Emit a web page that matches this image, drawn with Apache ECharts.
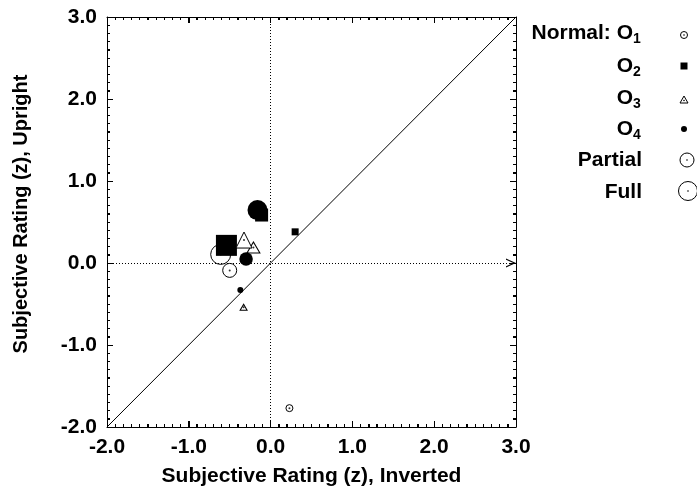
<!DOCTYPE html>
<html>
<head>
<meta charset="utf-8">
<script src="https://cdn.jsdelivr.net/npm/echarts@6/dist/echarts.min.js"></script>
<style>html,body{margin:0;padding:0;background:#fff}#c{width:697px;height:495px}</style>
</head>
<body>
<div id="c"></div>
<script>
// Orientation order: O1, O2, O3, O4
const orientations = ['O1', 'O2', 'O3', 'O4'];
const conditions = ['Normal', 'Partial', 'Full'];
const normalX = [0.23, 0.30, -0.33, -0.37];
const normalY = [-1.77, 0.38, -0.54, -0.33];
const partialX = [-0.50, -0.11, -0.21, -0.30];
const partialY = [-0.09, 0.585, 0.19, 0.05];
const fullX = [-0.61, -0.54, -0.325, -0.16];
const fullY = [0.105, 0.215, 0.28, 0.645];
const axisMin = -2, axisMax = 3, axisStep = 1, minorSteps = 10;
const xTitle = 'Subjective Rating (z), Inverted';
const yTitle = 'Subjective Rating (z), Upright';

const condX = [normalX, partialX, fullX];
const condY = [normalY, partialY, fullY];
function pts(o) { return condX.map((xs, c) => [xs[o], condY[c][o]]); }

const FONT = 'Liberation Sans';
const symbolSizes = {
  O1: [7, 14, 20],
  O2: [7, 13, 21],
  O3: [[7, 6], [13, 11], [16, 16]],
  O4: [6, 13.5, 20]
};
function sizeFn(key) { return (v, p) => symbolSizes[key][p.dataIndex]; }

const chart = echarts.init(document.getElementById('c'), null, { renderer: 'canvas' });

function labStyle(size) {
  return { fontFamily: FONT, fontWeight: 'bold', fontSize: size, color: '#000' };
}

function baseAxis(pos, showLab) {
  return {
    type: 'value', min: axisMin, max: axisMax, interval: axisStep, position: pos,
    axisLine: { show: true, onZero: false, lineStyle: { color: '#000', width: 1 } },
    axisTick: { show: true, inside: true, length: 6, lineStyle: { color: '#000', width: 1 } },
    minorTick: { show: true, splitNumber: minorSteps, length: 3, lineStyle: { color: '#000', width: 1 } },
    splitLine: { show: false },
    axisLabel: Object.assign({ show: showLab, formatter: v => v.toFixed(1), margin: 10 }, labStyle(21))
  };
}

const xa = baseAxis('bottom', true);
xa.name = xTitle; xa.nameLocation = 'middle'; xa.nameGap = 39; xa.nameTextStyle = labStyle(21);
const xTop = baseAxis('top', false);
const ya = baseAxis('left', true);
ya.name = yTitle; ya.nameLocation = 'middle'; ya.nameGap = 76;
ya.nameTextStyle = Object.assign(labStyle(20), { padding: [0, 0, 0, 16] });
const yRight = baseAxis('right', false);

// open chevron, tip at the symbol centre (degenerate point extends the bbox)
const chevron = 'path://M5,10 L10,20 L8.6,20 L5,12.8 L1.4,20 L0,20 Z M5,0 L5,0.01 L5.01,0 Z';
const dotted = { color: '#000', width: 1, type: [1, 2] };

const series = [
  {
    type: 'scatter', data: pts(0), symbol: 'none', symbolSize: 0, z: 1, silent: true,
    markLine: {
      silent: true, label: { show: false }, symbol: ['none', 'none'],
      data: [
        [{ coord: [axisMin, axisMin], lineStyle: { color: '#000', width: 1, type: 'solid' } },
         { coord: [axisMax, axisMax] }],
        { xAxis: 0, lineStyle: dotted },
        [{ coord: [axisMin, 0], lineStyle: dotted, symbol: 'none' },
         { coord: [axisMax, 0], symbol: chevron, symbolSize: [9, 20] }]
      ]
    }
  },
  { name: 'O1', type: 'scatter', data: pts(0), symbol: 'circle', symbolSize: sizeFn('O1'),
    itemStyle: { color: '#fff', borderColor: '#000', borderWidth: 1, opacity: 1 }, z: 3 },
  { type: 'scatter', data: pts(0), symbol: 'circle', symbolSize: 2, itemStyle: { color: '#000' }, z: 3 },
  { name: 'O2', type: 'scatter', data: pts(1), symbol: 'rect', symbolSize: sizeFn('O2'),
    itemStyle: { color: '#000', opacity: 1 }, z: 3 },
  { name: 'O3', type: 'scatter', data: pts(2), symbol: 'triangle', symbolSize: sizeFn('O3'),
    itemStyle: { color: '#fff', borderColor: '#000', borderWidth: 1, opacity: 1 }, z: 3 },
  { type: 'scatter', data: pts(2), symbol: 'circle', symbolSize: 2, itemStyle: { color: '#000' }, z: 3 },
  { name: 'O4', type: 'scatter', data: pts(3), symbol: 'circle', symbolSize: sizeFn('O4'),
    itemStyle: { color: '#000', opacity: 1 }, z: 3 }
];

// Legend drawn with graphic elements
const legendRows = [
  { main: 'Normal: O', sub: '1', y: 33, sym: 'o1', sy: 35 },
  { main: 'O', sub: '2', y: 66, sym: 'o2', sy: 66 },
  { main: 'O', sub: '3', y: 98, sym: 'o3', sy: 100 },
  { main: 'O', sub: '4', y: 129, sym: 'o4', sy: 129 },
  { main: 'Partial', sub: '', y: 160, sym: 'partial', sy: 160 },
  { main: 'Full', sub: '', y: 192, sym: 'full', sy: 191 }
];
const g = [];
legendRows.forEach(r => {
  const rx = r.sub ? 633 : 642;
  g.push({ type: 'text', x: rx, y: r.y, style: { text: r.main, align: 'right', verticalAlign: 'middle',
    font: 'bold 21px "' + FONT + '"', fill: '#000' } });
  if (r.sub) g.push({ type: 'text', x: 633, y: r.y + 6, style: { text: r.sub, align: 'left', verticalAlign: 'middle',
    font: 'bold 14px "' + FONT + '"', fill: '#000' } });
  const sx = 684, sy = r.sy;
  const st = { fill: '#fff', stroke: '#000', lineWidth: 1 };
  if (r.sym === 'o1') {
    g.push({ type: 'circle', shape: { cx: sx, cy: sy, r: 3.5 }, style: st });
    g.push({ type: 'circle', shape: { cx: sx, cy: sy, r: 0.8 }, style: { fill: '#000' } });
  } else if (r.sym === 'o2') {
    g.push({ type: 'rect', shape: { x: sx - 3.5, y: sy - 3.5, width: 7, height: 7 }, style: { fill: '#000' } });
  } else if (r.sym === 'o3') {
    g.push({ type: 'polygon', shape: { points: [[sx, sy - 4], [sx + 4, sy + 3], [sx - 4, sy + 3]] }, style: st });
    g.push({ type: 'circle', shape: { cx: sx, cy: sy + 0.5, r: 0.8 }, style: { fill: '#000' } });
  } else if (r.sym === 'o4') {
    g.push({ type: 'circle', shape: { cx: sx, cy: sy, r: 3 }, style: { fill: '#000' } });
  } else if (r.sym === 'partial') {
    g.push({ type: 'circle', shape: { cx: 687, cy: sy, r: 7 }, style: st });
    g.push({ type: 'circle', shape: { cx: 687, cy: sy, r: 0.8 }, style: { fill: '#000' } });
  } else {
    g.push({ type: 'circle', shape: { cx: 688, cy: sy, r: 9.5 }, style: st });
    g.push({ type: 'circle', shape: { cx: 688, cy: sy, r: 0.8 }, style: { fill: '#000' } });
  }
});

chart.setOption({
  animation: false,
  grid: { left: 107, right: 181, top: 17, bottom: 68 },
  xAxis: [xa, xTop],
  yAxis: [ya, yRight],
  series: series,
  graphic: g
});

// Inside ticks on all four sides, positioned through the axes' own scales
const ticks = [];
const crisp = v => Math.round(v - 0.5) + 0.5;
const xL = chart.convertToPixel({ xAxisIndex: 0 }, axisMin);
const xR = chart.convertToPixel({ xAxisIndex: 0 }, axisMax);
const yB = chart.convertToPixel({ yAxisIndex: 0 }, axisMin);
const yT = chart.convertToPixel({ yAxisIndex: 0 }, axisMax);
const nTicks = (axisMax - axisMin) * minorSteps;
const tk = (x1, y1, x2, y2) => ticks.push({ type: 'line', silent: true, z: 20,
  shape: { x1: x1, y1: y1, x2: x2, y2: y2 }, style: { stroke: '#000', lineWidth: 1 } });
for (let i = 0; i <= nTicks; i++) {
  const v = axisMin + i / minorSteps;
  const len = (i % minorSteps === 0) ? 6 : 3;
  const px = crisp(chart.convertToPixel({ xAxisIndex: 0 }, v));
  const py = crisp(chart.convertToPixel({ yAxisIndex: 0 }, v));
  tk(px, yB, px, yB - len);
  tk(px, yT, px, yT + len);
  tk(xL, py, xL + len, py);
  tk(xR, py, xR - len, py);
}
chart.setOption({ graphic: g.concat(ticks) });
</script>
</body>
</html>
